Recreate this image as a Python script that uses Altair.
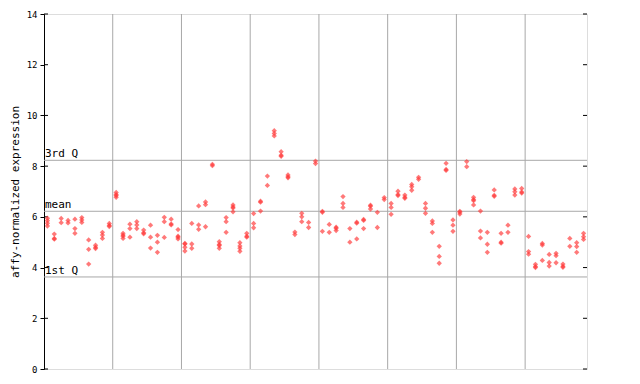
import altair as alt
import pandas as pd

# Expression values per sample (8 groups of samples)
group1 = [[5.95, 5.85, 5.75, 5.64], [5.32, 5.15, 5.12], [5.94, 5.77], [5.86, 5.76],
          [5.91, 5.54, 5.35], [5.97, 5.88, 5.78], [5.09, 4.72, 4.14], [4.88, 4.8, 4.75],
          [5.39, 5.28, 5.15], [5.74, 5.66, 5.62]]
group2 = [[6.96, 6.88, 6.84, 6.77], [5.35, 5.28, 5.24, 5.15], [5.71, 5.54, 5.2], [5.81, 5.68, 5.54],
          [5.48, 5.37, 5.33], [5.67, 5.2, 4.77], [5.27, 5.0, 4.6], [5.98, 5.81, 5.19],
          [5.91, 5.72, 5.68], [5.5, 5.24, 5.2, 5.13]]
group3 = [[4.95, 4.93, 4.8, 4.65], [5.74, 4.93, 4.76], [6.43, 5.68, 5.51], [6.59, 6.48, 5.61],
          [8.07, 8.02], [5.02, 4.91, 4.87, 4.76], [5.97, 5.81, 5.39], [6.47, 6.39, 6.35, 6.2],
          [4.98, 4.85, 4.76, 4.64], [5.35, 5.24, 5.2]]
group4 = [[6.13, 5.74, 5.57], [6.62, 6.58, 6.23], [7.61, 7.24], [9.4, 9.29, 9.19],
          [8.57, 8.43, 8.39], [7.65, 7.58, 7.54], [5.4, 5.3], [6.14, 6.0, 5.81],
          [5.78, 5.58], [8.2, 8.1]]
group5 = [[6.22, 6.18, 5.43], [5.7, 5.39], [5.59, 5.55, 5.46], [6.8, 6.53, 6.37],
          [5.54, 5.0], [5.79, 5.75, 5.13], [5.9, 5.86, 5.54], [6.46, 6.42, 6.31],
          [6.18, 5.58], [6.76, 6.68]]
group6 = [[6.53, 6.37, 6.1], [7.01, 6.88, 6.84], [6.86, 6.77, 6.73], [7.28, 7.19, 7.05],
          [7.56, 7.48], [6.53, 6.34, 6.14], [5.84, 5.74, 5.39], [4.84, 4.44, 4.17],
          [8.11, 7.87, 7.83], [5.88, 5.67, 5.43]]
group7 = [[6.22, 6.18, 6.11], [8.18, 7.98], [6.77, 6.68, 6.64, 6.47], [6.23, 5.44, 5.17],
          [5.39, 4.92, 4.6], [7.06, 6.85, 6.81], [5.35, 5.0, 4.96], [5.67, 5.39],
          [7.1, 6.99, 6.86], [7.12, 6.98, 6.94]]
group8 = [[5.23, 4.63, 4.53], [4.13, 4.04, 4.0], [4.95, 4.89, 4.28], [4.52, 4.2, 4.06],
          [4.56, 4.47, 4.19], [4.14, 4.05, 4.01], [5.15, 4.84], [4.98, 4.83, 4.6],
          [5.35, 5.22, 5.11]]

group_boundaries = [10.5, 20.5, 30.5, 40.5, 50.5, 60.5, 70.5]
stat_labels = ["3rd Q", "mean", "1st Q"]
stat_values = [8.23, 6.22, 3.63]
y_ticks = [0, 2, 4, 6, 8, 10, 12, 14]

samples = group1 + group2 + group3 + group4 + group5 + group6 + group7 + group8
rows = []
for i, vals in enumerate(samples, start=1):
    for v in vals:
        rows.append({"sample": i, "value": v})
points_df = pd.DataFrame(rows)
n = len(samples)

W, H = 543, 355
FONT = "DejaVu Sans Mono"

xscale = alt.Scale(domain=[0.5, n + 0.5], nice=False, zero=False)
yscale = alt.Scale(domain=[0, 14], nice=False)

vlines = alt.Chart(pd.DataFrame({"b": group_boundaries})).mark_rule(
    color="#a8a8a8", strokeWidth=1
).encode(x=alt.X("b:Q", scale=xscale, axis=None))

stats_df = pd.DataFrame({"label": stat_labels, "v": stat_values})
hlines = alt.Chart(stats_df).mark_rule(color="#a8a8a8", strokeWidth=1).encode(
    y=alt.Y("v:Q", scale=yscale)
)
stat_text = alt.Chart(stats_df).mark_text(
    align="left", baseline="bottom", font=FONT, fontSize=11, color="black", dx=1, dy=-1
).encode(x=alt.value(0), y=alt.Y("v:Q", scale=yscale), text="label:N")

ticks_df = pd.DataFrame({"t": y_ticks})
left_in = alt.Chart(ticks_df).mark_rule(color="black").encode(
    x=alt.value(0), x2=alt.value(4), y=alt.Y("t:Q", scale=yscale)
)
right_in = alt.Chart(ticks_df).mark_rule(color="black").encode(
    x=alt.value(W - 4), x2=alt.value(W), y=alt.Y("t:Q", scale=yscale)
)

pts = alt.Chart(points_df).mark_point(
    shape="diamond", filled=True, size=28, color="#ff3a3a", opacity=0.68, strokeWidth=0
).encode(
    x=alt.X("sample:Q", scale=xscale,
            axis=alt.Axis(title=None, labels=False, ticks=False, grid=False,
                          domainColor="black")),
    y=alt.Y("value:Q", scale=yscale,
            axis=alt.Axis(title="affy-normalized expression", values=y_ticks, grid=False,
                          tickSize=4, tickColor="black", domainColor="black",
                          labelFont=FONT, labelFontSize=9, labelColor="black",
                          labelPadding=3, titleFont=FONT, titleFontSize=11,
                          titleFontWeight="normal", titleColor="black", titlePadding=6)),
)

chart = alt.layer(vlines, hlines, stat_text, left_in, right_in, pts).properties(
    width=W, height=H,
    autosize=alt.AutoSizeParams(type="none"),
    padding={"left": 36, "top": 6, "right": 40, "bottom": 10},
).configure_view(stroke="black", strokeWidth=1).configure(background="white")

chart.save("out.html", embed_options={"renderer": "svg", "actions": False})
